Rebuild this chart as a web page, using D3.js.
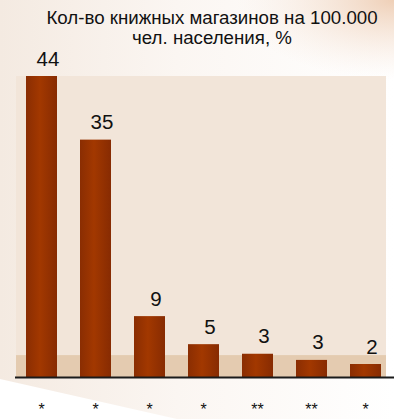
<!DOCTYPE html>
<html>
<head>
<meta charset="utf-8">
<script src="https://cdn.jsdelivr.net/npm/d3@7"></script>
<style>
  html, body { margin: 0; padding: 0; background: #fff; }
  svg { display: block; font-family: "Liberation Sans", Arial, sans-serif; }
</style>
</head>
<body>
<div id="chart"></div>
<script>
// chart data
const categories = ["a", "b", "c", "d", "e", "f", "g"];
const values = [44, 34.7, 8.9, 4.8, 3.4, 2.5, 1.9];
const valueLabels = ["44", "35", "9", "5", "3", "3", "2"];
const tickLabels = ["*", "*", "*", "*", "**", "**", "*"];
const titleLines = ["Кол-во книжных магазинов на 100.000", "чел. населения, %"];
const bandValue = 3.2; // darker strip at the bottom of the plot

const width = 394, height = 419;

const svg = d3.select("#chart").append("svg")
  .attr("width", width)
  .attr("height", height);

const defs = svg.append("defs");

// background wash
const bgGrad = defs.append("linearGradient").attr("id", "bgGrad")
  .attr("x1", "0%").attr("x2", "100%").attr("y1", "0%").attr("y2", "0%");
bgGrad.append("stop").attr("offset", "0%").attr("stop-color", "#f4eae1");
bgGrad.append("stop").attr("offset", "45%").attr("stop-color", "#fbf6f2");
bgGrad.append("stop").attr("offset", "100%").attr("stop-color", "#ffffff");

const glow = defs.append("radialGradient").attr("id", "glow")
  .attr("cx", "100%").attr("cy", "0%").attr("r", "40%");
glow.append("stop").attr("offset", "0%").attr("stop-color", "#eecdb3").attr("stop-opacity", 0.95);
glow.append("stop").attr("offset", "100%").attr("stop-color", "#f6e6da").attr("stop-opacity", 0);

// bar shading
const barGrad = defs.append("linearGradient").attr("id", "barGrad")
  .attr("x1", "0%").attr("x2", "100%").attr("y1", "0%").attr("y2", "0%");
barGrad.append("stop").attr("offset", "0%").attr("stop-color", "#8a2d02");
barGrad.append("stop").attr("offset", "45%").attr("stop-color", "#a23800");
barGrad.append("stop").attr("offset", "100%").attr("stop-color", "#872b02");

svg.append("path")
  .attr("d", "M0,0H" + width + "V" + height + "H177L0,379Z")
  .attr("fill", "url(#bgGrad)");
svg.append("rect")
  .attr("width", width).attr("height", 200)
  .attr("fill", "url(#glow)");

const plot = { left: 16, right: 386 };

const x = d3.scaleBand()
  .domain(categories)
  .range([26, 381])
  .paddingInner(0.426)
  .paddingOuter(0);

const y = d3.scaleLinear()
  .domain([0, 44])
  .range([377, 76]);

// plot area
svg.append("rect")
  .attr("x", plot.left).attr("y", y(44))
  .attr("width", plot.right - plot.left).attr("height", y(0) - y(44))
  .attr("fill", "#f2e5d9");
svg.append("rect")
  .attr("x", plot.left).attr("y", y(bandValue))
  .attr("width", plot.right - plot.left).attr("height", y(0) - y(bandValue))
  .attr("fill", "#e4cbb0");

// bars
svg.selectAll(".bar")
  .data(values)
  .join("rect")
  .attr("class", "bar")
  .attr("x", (d, i) => x(categories[i]))
  .attr("y", d => y(d))
  .attr("width", x.bandwidth())
  .attr("height", d => y(0) - y(d))
  .attr("fill", "url(#barGrad)");

// value labels
svg.selectAll(".val")
  .data(values)
  .join("text")
  .attr("class", "val")
  .attr("x", (d, i) => x(categories[i]) + x.bandwidth() / 2 + 6.5)
  .attr("y", d => y(d) - 10.5)
  .attr("text-anchor", "middle")
  .attr("font-size", 20.5)
  .attr("fill", "#111")
  .text((d, i) => valueLabels[i]);

// axis
const xAxis = d3.axisBottom(x).tickSize(0).tickFormat((d, i) => tickLabels[i]);
const axisG = svg.append("g")
  .attr("transform", "translate(0," + y(0) + ")")
  .call(xAxis);
axisG.select(".domain").remove();
axisG.selectAll("text")
  .attr("dy", null)
  .attr("y", 38)
  .attr("font-size", 16)
  .attr("font-family", "Liberation Sans, Arial, sans-serif")
  .attr("fill", "#111");
svg.append("line")
  .attr("x1", 15).attr("x2", width)
  .attr("y1", y(0) + 0.5).attr("y2", y(0) + 0.5)
  .attr("stroke", "#1a1a1a")
  .attr("stroke-width", 2);

// title
svg.append("text")
  .attr("text-anchor", "middle")
  .attr("font-size", 18.7)
  .attr("fill", "#111")
  .selectAll("tspan")
  .data(titleLines)
  .join("tspan")
  .attr("x", 212)
  .attr("y", (d, i) => 24 + i * 20)
  .text(d => d);
</script>
</body>
</html>
